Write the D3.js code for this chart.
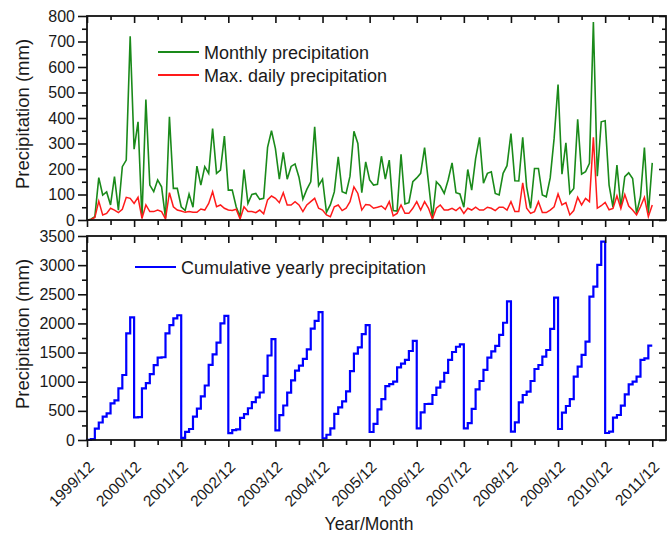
<!DOCTYPE html>
<html>
<head>
<meta charset="utf-8">
<script src="https://d3js.org/d3.v7.min.js"></script>
<style>
  body { margin: 0; background: #fff; }
  text { font-family: "Liberation Sans", Arial, sans-serif; fill: #1a1a1a; }
</style>
</head>
<body>
<svg width="671" height="534"></svg>
<script>
// month index 0 = 1999/12, 144 = 2011/12
var tickLabels = ["1999/12", "2000/12", "2001/12", "2002/12", "2003/12", "2004/12", "2005/12",
                  "2006/12", "2007/12", "2008/12", "2009/12", "2010/12", "2011/12"];

var monthly = [0,
  3, 13, 166, 98, 110, 59, 170, 39, 209, 235, 720, 278,
  385, 7, 472, 137, 111, 157, 130, 7, 405, 124, 124, 52,
  37, 102, 50, 211, 137, 209, 183, 359, 183, 196, 329, 117,
  117, 52, 13, 198, 65, 100, 104, 81, 85, 285, 350, 280,
  160, 265, 160, 210, 220, 168, 82, 120, 150, 365, 135, 160,
  30, 60, 110, 248, 111, 104, 172, 348, 300, 107, 228, 157,
  137, 140, 250, 160, 235, 37, 35, 258, 63, 68, 150, 165,
  183, 284, 146, 7, 150, 133, 104, 157, 224, 107, 102, 50,
  198, 117, 241, 324, 144, 183, 189, 104, 98, 183, 213, 339,
  154, 153, 324, 130, 46, 202, 202, 98, 91, 165, 320, 531,
  180, 303, 104, 124, 395, 180, 189, 222, 776, 172, 385, 389,
  137, 50, 215, 50, 170, 185, 163, 26, 91, 284, 26, 224];

var maxDaily = [0,
  2, 10, 74, 20, 26, 46, 39, 29, 42, 89, 85, 65,
  89, 6, 59, 33, 33, 39, 33, 4, 107, 52, 39, 35,
  30, 33, 30, 30, 43, 39, 65, 111, 52, 59, 46, 39,
  37, 42, 4, 52, 33, 33, 29, 39, 24, 79, 94, 85,
  68, 107, 59, 59, 72, 59, 33, 59, 72, 85, 46, 39,
  20, 13, 52, 59, 37, 46, 72, 130, 104, 39, 61, 59,
  46, 50, 55, 42, 72, 16, 26, 59, 26, 26, 46, 72,
  39, 72, 46, 4, 46, 59, 39, 39, 46, 37, 50, 26,
  46, 39, 50, 39, 39, 50, 46, 37, 50, 50, 39, 72,
  33, 33, 146, 46, 26, 33, 72, 29, 29, 39, 52, 102,
  59, 68, 20, 37, 89, 59, 85, 72, 324, 46, 56, 69,
  40, 45, 95, 45, 100, 55, 39, 20, 52, 89, 13, 59];

var cumulative = [0,
  3, 16, 195, 300, 400, 458, 629, 680, 887, 1115, 1830, 2105,
  389, 392, 887, 975, 1130, 1285, 1415, 1420, 1830, 1970, 2085, 2140,
  37, 139, 189, 400, 540, 750, 935, 1290, 1470, 1670, 2000, 2130,
  117, 169, 182, 380, 445, 545, 649, 730, 815, 1100, 1450, 1730,
  165, 428, 592, 812, 1022, 1190, 1275, 1393, 1555, 1910, 2045, 2195,
  30, 90, 200, 448, 559, 663, 835, 1183, 1483, 1590, 1818, 1970,
  137, 277, 527, 700, 925, 958, 1000, 1245, 1312, 1375, 1527, 1700,
  200, 475, 618, 620, 772, 900, 1003, 1150, 1375, 1510, 1600, 1642,
  198, 290, 535, 870, 1012, 1204, 1415, 1522, 1615, 1805, 2012, 2380,
  143, 303, 646, 772, 829, 1012, 1218, 1287, 1430, 1544, 1905, 2442,
  189, 469, 583, 703, 1087, 1258, 1459, 1687, 2460, 2631, 3003, 3403,
  120, 143, 383, 429, 589, 784, 955, 1001, 1087, 1373, 1401, 1619];

var svg = d3.select("svg");
var left = 87, right = 666;

var x = d3.scaleLinear().domain([0, 147.5]).range([left, right]);
var yTop = d3.scaleLinear().domain([0, 800]).range([220, 16]);
var yBot = d3.scaleLinear().domain([0, 3500]).range([440, 236]);

var majorX = tickLabels.map(function(d, i) { return i * 12; });
var minorX = d3.range(6, 147, 12);

function frame(y, majorY, minorY) {
  var g = svg.append("g");
  var y0 = y.range()[0], y1 = y.range()[1];

  function ticks(axis, vals, size, labels) {
    return axis.tickValues(vals).tickSize(size).tickSizeOuter(0)
      .tickFormat(labels || function() { return ""; });
  }

  // left
  g.append("g").attr("transform", "translate(" + left + ",0)")
    .call(ticks(d3.axisLeft(y), minorY, 5));
  g.append("g").attr("class", "ylab").attr("transform", "translate(" + left + ",0)")
    .call(ticks(d3.axisLeft(y), majorY, 9, function(d) { return d; }).tickPadding(3));
  // right (inward)
  g.append("g").attr("transform", "translate(" + right + ",0)")
    .call(ticks(d3.axisRight(y), minorY, -4));
  g.append("g").attr("transform", "translate(" + right + ",0)")
    .call(ticks(d3.axisRight(y), majorY, -7));
  // top (inward)
  g.append("g").attr("transform", "translate(0," + y1 + ")")
    .call(ticks(d3.axisTop(x), minorX, -4));
  g.append("g").attr("transform", "translate(0," + y1 + ")")
    .call(ticks(d3.axisTop(x), majorX, -7));
  // bottom (outward)
  g.append("g").attr("transform", "translate(0," + y0 + ")")
    .call(ticks(d3.axisBottom(x), minorX, 5));
  g.append("g").attr("transform", "translate(0," + y0 + ")")
    .call(ticks(d3.axisBottom(x), majorX, 7));

  g.selectAll(".domain").remove();
  g.selectAll(".tick line").attr("stroke", "#111").attr("stroke-width", 1.6);
  g.selectAll(".ylab text").style("font-size", "16px").attr("fill", "#1a1a1a")
    .style("font-family", "'Liberation Sans', Arial, sans-serif");

  g.append("rect")
    .attr("x", left).attr("y", y1)
    .attr("width", right - left).attr("height", y0 - y1)
    .attr("fill", "none").attr("stroke", "#111").attr("stroke-width", 1.8);
  return g;
}

var lineOf = function(y, curve) {
  return d3.line().x(function(d, i) { return x(i); }).y(function(d) { return y(d); })
    .curve(curve || d3.curveLinear);
};

// top panel
svg.append("path").datum(monthly)
  .attr("d", lineOf(yTop)).attr("fill", "none")
  .attr("stroke", "#1a8a1a").attr("stroke-width", 1.6);
svg.append("path").datum(maxDaily)
  .attr("d", lineOf(yTop)).attr("fill", "none")
  .attr("stroke", "#ff1a1a").attr("stroke-width", 1.5);
frame(yTop, d3.range(0, 801, 100), d3.range(50, 800, 100));

// bottom panel
svg.append("path").datum(cumulative)
  .attr("d", lineOf(yBot, d3.curveStepBefore)).attr("fill", "none")
  .attr("stroke", "#0000ff").attr("stroke-width", 2.2);
frame(yBot, d3.range(0, 3501, 500), d3.range(250, 3500, 500));

// legends
var legends = [
  { y: 52, color: "#1a8a1a", x0: 158, label: "Monthly precipitation" },
  { y: 75, color: "#ff1a1a", x0: 158, label: "Max. daily precipitation" },
  { y: 267, color: "#0000ff", x0: 135, label: "Cumulative yearly precipitation" }
];
legends.forEach(function(l) {
  svg.append("line").attr("x1", l.x0).attr("x2", l.x0 + 41)
    .attr("y1", l.y).attr("y2", l.y)
    .attr("stroke", l.color).attr("stroke-width", 2);
  svg.append("text").attr("x", l.x0 + 46).attr("y", l.y + 6.5)
    .style("font-size", "18px").text(l.label);
});

// x tick labels (rotated)
svg.append("g").selectAll("text").data(tickLabels).enter().append("text")
  .attr("transform", function(d, i) {
    return "translate(" + (x(majorX[i]) + 8) + ",468) rotate(-45)";
  })
  .attr("text-anchor", "end")
  .style("font-size", "15.5px")
  .text(function(d) { return d; });

// axis titles
[yTop, yBot].forEach(function(y) {
  var c = (y.range()[0] + y.range()[1]) / 2;
  svg.append("text")
    .attr("transform", "translate(29," + (c - 4) + ") rotate(-90)")
    .attr("text-anchor", "middle")
    .style("font-size", "18.5px")
    .text("Precipitation (mm)");
});
svg.append("text").attr("x", 369).attr("y", 530)
  .attr("text-anchor", "middle").style("font-size", "17.5px")
  .text("Year/Month");
</script>
</body>
</html>
